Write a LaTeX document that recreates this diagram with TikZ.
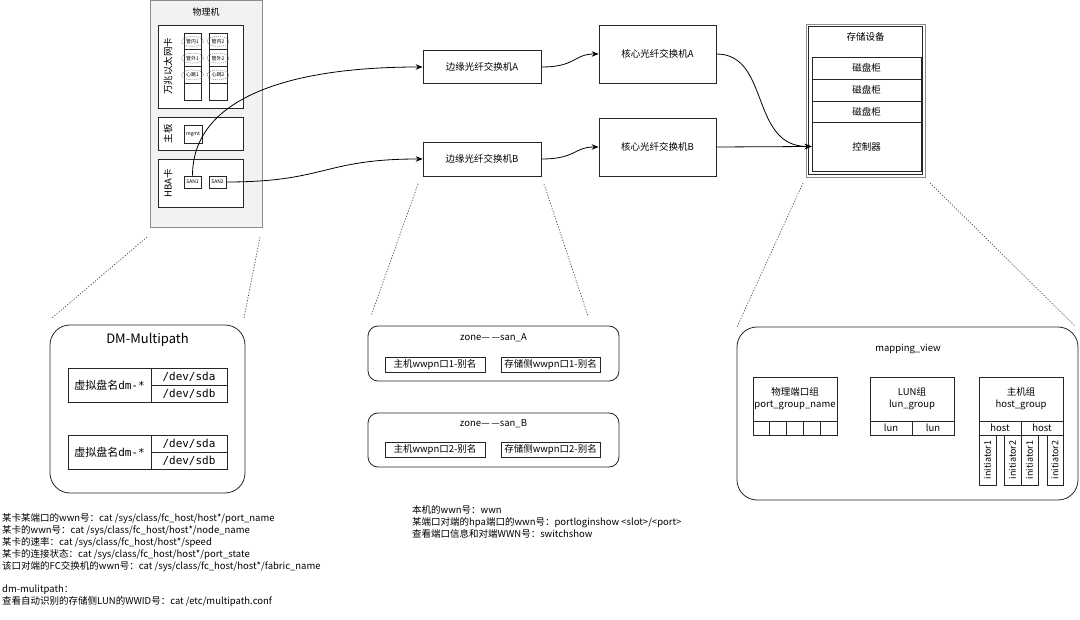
\documentclass[tikz,border=0pt]{standalone}
\usepackage{fontspec}
\setmainfont{Noto Sans CJK SC}
\setmonofont{DejaVu Sans Mono}
\usetikzlibrary{arrows.meta,shapes.geometric}
\definecolor{hostgray}{HTML}{F2F2F2}
\definecolor{framegray}{HTML}{8C8C8C}

\begin{document}
\begin{tikzpicture}[
    x=1pt, y=-1pt,
    box/.style={draw=black!85, fill=white, line width=0.7pt, inner sep=0pt,
        font=\fontsize{9.5}{11}\selectfont},
    cell/.style={draw=black!85, line width=0.7pt, inner sep=0pt,
        font=\fontsize{5}{6}\selectfont},
    tag/.style={ellipse, draw=black!55, line width=0.5pt, dash pattern=on 1pt off 1pt,
        minimum width=22, minimum height=10, inner sep=0pt,
        font=\fontsize{5}{6}\selectfont},
    group/.style={draw=black!85, line width=0.8pt, rounded corners=20pt},
    headtext/.style={inner sep=0pt, font=\fontsize{9.5}{11}\selectfont},
    note/.style={align=left, inner sep=0pt, font=\fontsize{9.5}{12}\selectfont},
    edge/.style={line width=0.8pt, -{Stealth[length=7pt,width=5.5pt]}},
    zoomline/.style={black!70, line width=0.7pt, dash pattern=on 1.2pt off 1.6pt}
]
    \useasboundingbox (0,0) rectangle (1080,620);

    \node[draw=framegray, fill=hostgray, line width=0.8pt, minimum width=112,
        minimum height=227] (pm) at (206,113.5) {};
    \node[headtext, font=\fontsize{9}{11}\selectfont] (pmtitle) at (206,12) {物理机};

    \node[box, minimum width=85, minimum height=83] (nic) at (200.5,66.5) {};
    \node[headtext, rotate=90] (nictext) at (168,66.5) {万兆以太网卡};
    \node[cell, minimum width=17, minimum height=16.75] (nic11) at (192.5,41.4) {};
    \node[cell, minimum width=17, minimum height=16.75] (nic12) at (192.5,58.1) {};
    \node[cell, minimum width=17, minimum height=16.75] (nic13) at (192.5,74.9) {};
    \node[cell, minimum width=17, minimum height=16.75] (nic14) at (192.5,91.6) {};
    \node[cell, minimum width=18, minimum height=16.75] (nic21) at (218,41.4) {};
    \node[cell, minimum width=18, minimum height=16.75] (nic22) at (218,58.1) {};
    \node[cell, minimum width=18, minimum height=16.75] (nic23) at (218,74.9) {};
    \node[cell, minimum width=18, minimum height=16.75] (nic24) at (218,91.6) {};
    \node[tag] (mgmtin1) at (192.5,41.4) {管内1};
    \node[tag] (mgmtin2) at (218,41.4) {管内2};
    \node[tag] (mgmtout1) at (192.5,58.1) {管外1};
    \node[tag] (mgmtout2) at (218,58.1) {管外2};
    \node[tag] (beat1) at (192.5,74.9) {心跳1};
    \node[tag] (beat2) at (218,74.9) {心跳2};

    \node[box, minimum width=85, minimum height=33] (board) at (200.5,134) {};
    \node[headtext, rotate=90] (boardtext) at (168,134) {主板};
    \node[cell, fill=white, minimum width=18, minimum height=18] (mgmt) at (193,134) {mgmt};

    \node[box, minimum width=85, minimum height=48] (hba) at (200.5,183) {};
    \node[headtext, rotate=90] (hbatext) at (168,183) {HBA卡};
    \node[cell, fill=white, minimum width=17, minimum height=12] (san1) at (192.5,182) {SAN1};
    \node[cell, fill=white, minimum width=17, minimum height=12] (san2) at (217.5,182) {SAN2};

    \node[box, minimum width=118, minimum height=33] (edgeA) at (482,67) {边缘光纤交换机A};
    \node[box, minimum width=117, minimum height=58] (coreA) at (657.5,54) {核心光纤交换机A};
    \node[box, minimum width=118, minimum height=34] (edgeB) at (482,159) {边缘光纤交换机B};
    \node[box, minimum width=117, minimum height=58] (coreB) at (657.5,147) {核心光纤交换机B};

    \node[draw=framegray, line width=0.8pt, minimum width=119, minimum height=153] (storout) at (865.5,100.5) {};
    \node[draw=black!85, line width=0.7pt, minimum width=114, minimum height=148] (stor) at (865.5,100.5) {};
    \node[headtext] (stortitle) at (865.5,37) {存储设备};
    \node[box, minimum width=109, minimum height=22] (shelf1) at (866.5,68) {磁盘柜};
    \node[box, minimum width=109, minimum height=22] (shelf2) at (866.5,90) {磁盘柜};
    \node[box, minimum width=109, minimum height=21] (shelf3) at (866.5,111.5) {磁盘柜};
    \node[box, minimum width=109, minimum height=49] (ctrl) at (866.5,146.5) {控制器};

    \draw[edge] (san1.north) .. controls +(0,-75) and +(-140,0) .. (edgeA.west);
    \draw[edge] (san2.east) .. controls +(100,0) and +(-100,0) .. (edgeB.west);
    \draw[edge] (edgeA.east) .. controls +(35,0) and +(-25,0) .. (coreA.west);
    \draw[edge] (edgeB.east) .. controls +(35,0) and +(-25,0) .. (coreB.west);
    \draw[edge] (coreA.east) .. controls +(54,0) and +(-62,0) .. (ctrl.west);
    \draw[edge] (coreB.east) -- (ctrl.west);

    \node[group, minimum width=195, minimum height=168] (dm) at (147.5,409) {};
    \node[inner sep=0pt, font=\fontsize{13}{15}\selectfont] (dmtitle) at (147.5,340) {DM-Multipath};
    \node[box, minimum width=83, minimum height=34, font=\fontsize{11}{13}\selectfont] (vdisk1) at (109.5,385) {虚拟盘名\texttt{dm-*}};
    \node[box, minimum width=76, minimum height=17, font=\fontsize{11}{13}\ttfamily] (sda1) at (189,376.5) {/dev/sda};
    \node[box, minimum width=76, minimum height=17, font=\fontsize{11}{13}\ttfamily] (sdb1) at (189,393.5) {/dev/sdb};
    \node[box, minimum width=83, minimum height=34, font=\fontsize{11}{13}\selectfont] (vdisk2) at (109.5,452.5) {虚拟盘名\texttt{dm-*}};
    \node[box, minimum width=76, minimum height=17, font=\fontsize{11}{13}\ttfamily] (sda2) at (189,444) {/dev/sda};
    \node[box, minimum width=76, minimum height=17, font=\fontsize{11}{13}\ttfamily] (sdb2) at (189,461) {/dev/sdb};

    \node[group, rounded corners=10pt, minimum width=251, minimum height=55] (zoneA) at (493.5,353.5) {};
    \node[headtext] (zoneAtitle) at (493.5,338) {zone—\,—san\_A};
    \node[box, minimum width=100, minimum height=15] (hostA) at (435,364.5) {主机wwpn口1-别名};
    \node[box, minimum width=99, minimum height=15] (storA) at (550.5,364.5) {存储侧wwpn口1-别名};
    \node[group, rounded corners=10pt, minimum width=251, minimum height=54] (zoneB) at (493.5,440) {};
    \node[headtext] (zoneBtitle) at (493.5,424) {zone—\,—san\_B};
    \node[box, minimum width=100, minimum height=15] (hostB) at (435,449.5) {主机wwpn口2-别名};
    \node[box, minimum width=99, minimum height=15] (storB) at (550.5,449.5) {存储侧wwpn口2-别名};

    \node[group, minimum width=341, minimum height=173] (mv) at (907.5,413.5) {};
    \node[headtext] (mvtitle) at (908,349) {mapping\_view};
    \node[box, minimum width=84, minimum height=44, align=center, font=\fontsize{9.5}{12}\selectfont] (pgroup) at (795,399) {物理端口组\\port\_group\_name};
    \node[box, minimum width=16.8, minimum height=14] (pcell1) at (761.4,428) {};
    \node[box, minimum width=16.8, minimum height=14] (pcell2) at (778.2,428) {};
    \node[box, minimum width=16.8, minimum height=14] (pcell3) at (795,428) {};
    \node[box, minimum width=16.8, minimum height=14] (pcell4) at (811.8,428) {};
    \node[box, minimum width=16.8, minimum height=14] (pcell5) at (828.6,428) {};
    \node[box, minimum width=84, minimum height=44, align=center, font=\fontsize{9.5}{12}\selectfont] (lgroup) at (912,399) {LUN组\\lun\_group};
    \node[box, minimum width=42, minimum height=14] (lun1) at (891,428) {lun};
    \node[box, minimum width=42, minimum height=14] (lun2) at (933,428) {lun};
    \node[box, minimum width=84, minimum height=44, align=center, font=\fontsize{9.5}{12}\selectfont] (hgroup) at (1021,399) {主机组\\host\_group};
    \node[box, minimum width=42, minimum height=14] (host1) at (1000,428) {host};
    \node[box, minimum width=42, minimum height=14] (host2) at (1042,428) {host};
    \node[box, minimum width=17, minimum height=50, font=\fontsize{9}{10}\selectfont] (init11) at (987.5,460) {\rotatebox{90}{initiator1}};
    \node[box, minimum width=17, minimum height=50, font=\fontsize{9}{10}\selectfont] (init12) at (1012.5,460) {\rotatebox{90}{initiator2}};
    \node[box, minimum width=17, minimum height=50, font=\fontsize{9}{10}\selectfont] (init21) at (1029.5,460) {\rotatebox{90}{initiator1}};
    \node[box, minimum width=16, minimum height=50, font=\fontsize{9}{10}\selectfont] (init22) at (1055,460) {\rotatebox{90}{initiator2}};

    \coordinate (pmzl1) at (147,237);
    \coordinate (pmzl2) at (260,237);
    \coordinate (dmzl1) at (52,318);
    \coordinate (dmzl2) at (244,318);
    \coordinate (edzl1) at (418,184);
    \coordinate (edzl2) at (544,184);
    \coordinate (znzl1) at (371,316);
    \coordinate (znzl2) at (588,316);
    \coordinate (stzl1) at (803,183);
    \coordinate (stzl2) at (930,183);
    \coordinate (mvzl1) at (737,327);
    \coordinate (mvzl2) at (1075,326);
    \draw[zoomline] (pmzl1) -- (dmzl1);
    \draw[zoomline] (pmzl2) -- (dmzl2);
    \draw[zoomline] (edzl1) -- (znzl1);
    \draw[zoomline] (edzl2) -- (znzl2);
    \draw[zoomline] (stzl1) -- (mvzl1);
    \draw[zoomline] (stzl2) -- (mvzl2);

    \node[note, anchor=north west] (hostcmds) at (2,513) {某卡某端口的wwn号：cat /sys/class/fc\_host/host*/port\_name\\
        某卡的wwn号：cat /sys/class/fc\_host/host*/node\_name\\
        某卡的速率：cat /sys/class/fc\_host/host*/speed\\
        某卡的连接状态：cat /sys/class/fc\_host/host*/port\_state\\
        该口对端的FC交换机的wwn号：cat /sys/class/fc\_host/host*/fabric\_name\\[11pt]
        dm-mulitpath：\\
        查看自动识别的存储侧LUN的WWID号：cat /etc/multipath.conf};
    \node[note, anchor=north west] (switchcmds) at (412,505) {本机的wwn号：wwn\\
        某端口对端的hpa端口的wwn号：portloginshow <slot>/<port>\\
        查看端口信息和对端WWN号：switchshow};
\end{tikzpicture}
\end{document}
